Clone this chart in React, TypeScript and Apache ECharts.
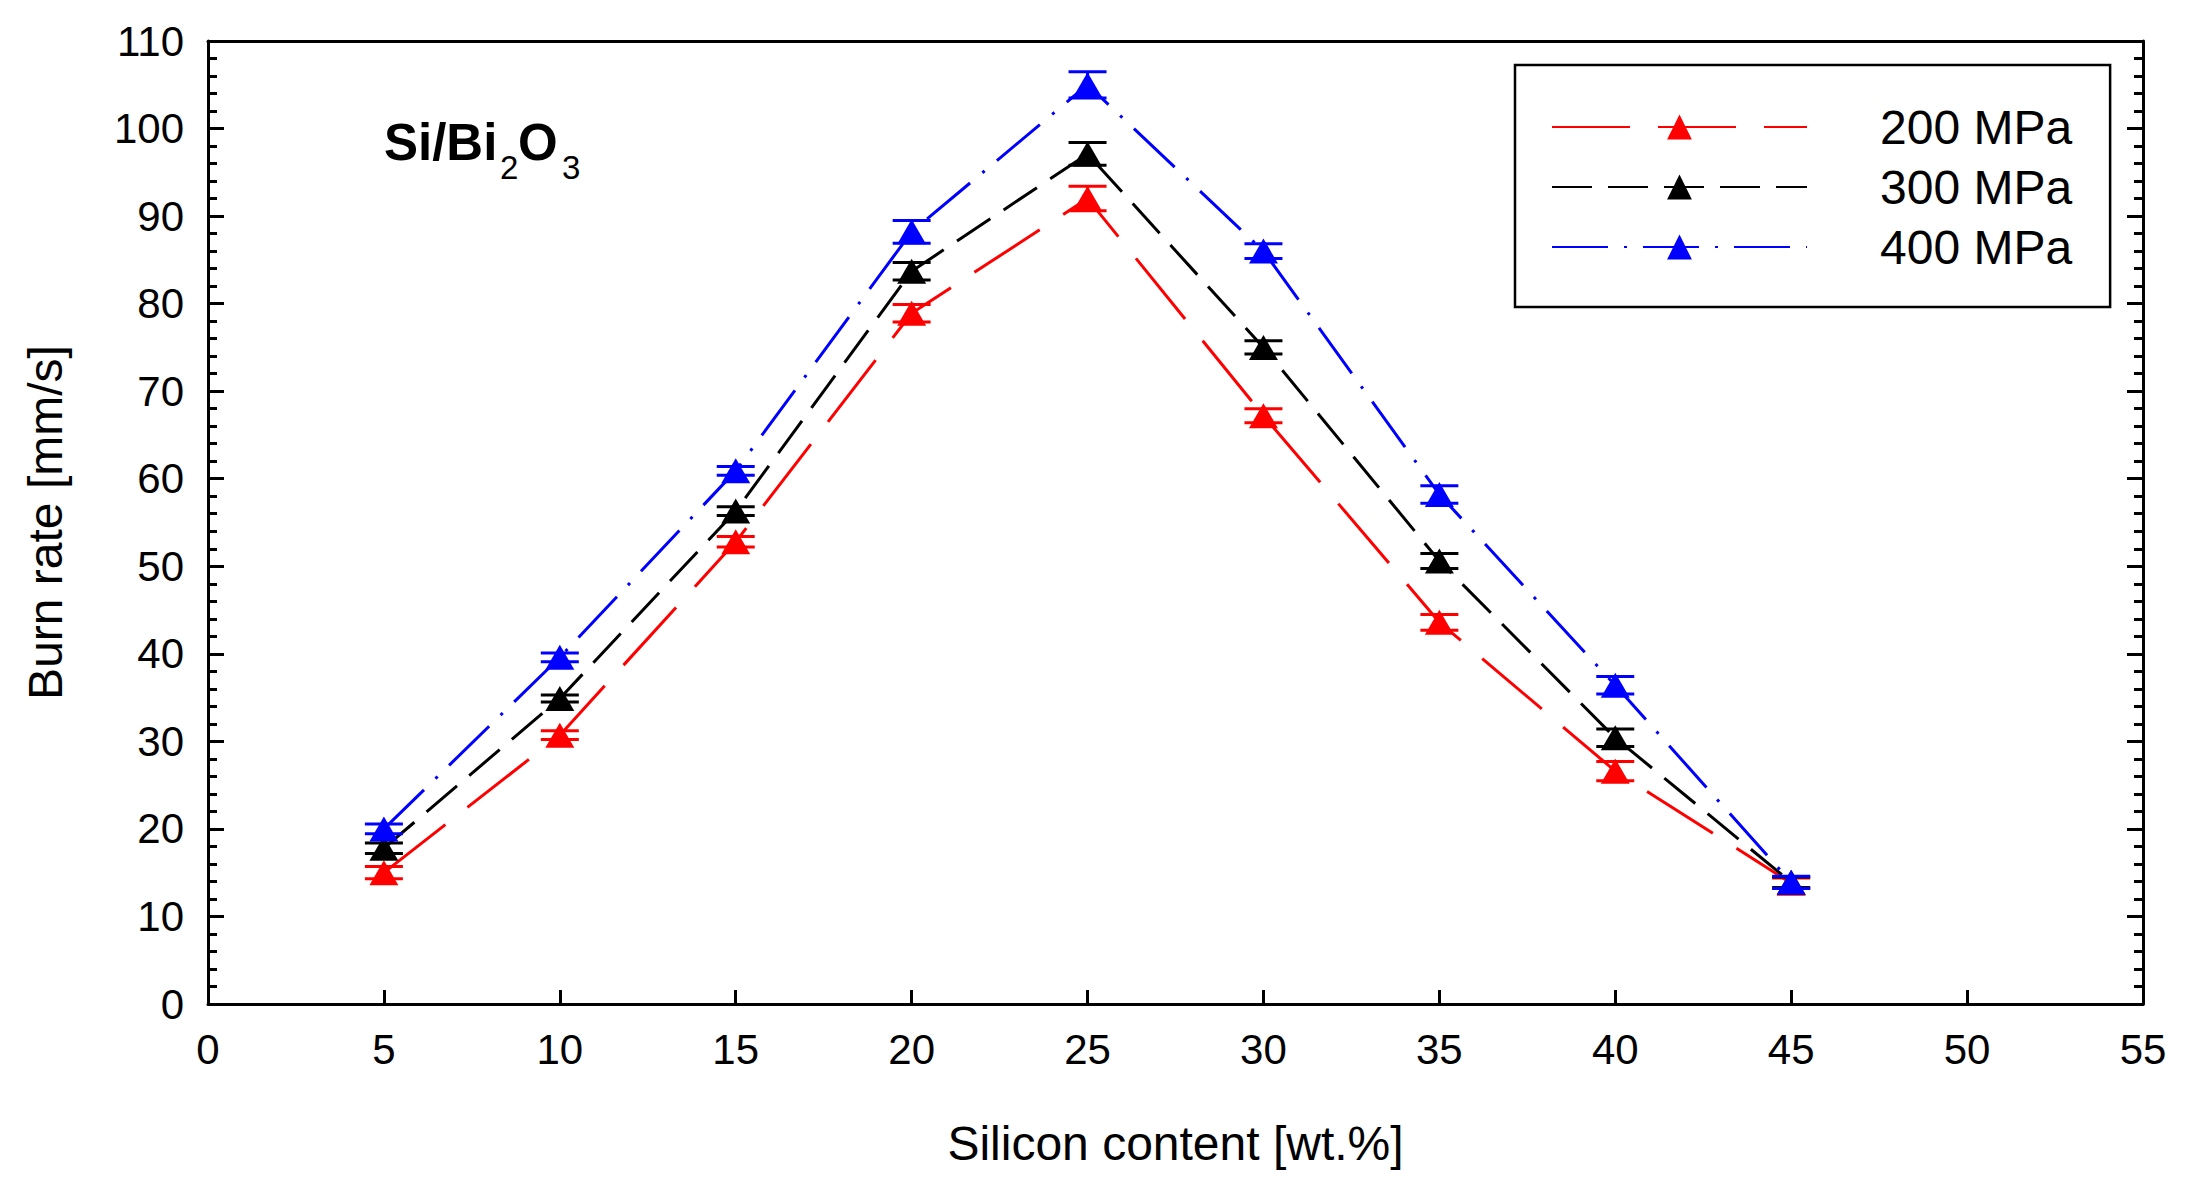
import React, { useEffect, useRef } from "react";
import * as echarts from "echarts";

const siliconContent = [5, 10, 15, 20, 25, 30, 35, 40, 45];
const seriesNames = ["200 MPa", "300 MPa", "400 MPa"];
const rate200 = [15.0, 30.7, 52.8, 78.9, 92.0, 67.2, 43.6, 26.6, 13.8];
const rate300 = [17.8, 34.9, 56.3, 83.7, 97.1, 75.0, 50.6, 30.4, 13.9];
const rate400 = [20.0, 39.6, 60.9, 88.2, 105.0, 86.0, 58.2, 36.4, 13.9];
const err200 = [0.7, 0.5, 0.6, 1.0, 1.4, 0.8, 0.9, 1.1, 0.6];
const err300 = [0.6, 0.4, 0.5, 1.0, 1.3, 0.75, 0.85, 1.0, 0.6];
const err400 = [0.55, 0.5, 0.5, 1.3, 1.5, 0.85, 1.0, 1.0, 0.7];
const xTicks = { min: 0, max: 55, interval: 5 };
const yTicks = { min: 0, max: 110, interval: 10 };

const FONT = "'Liberation Sans', Arial, sans-serif";

const colors = ["#ff0000", "#000000", "#0000ff"];
const dashes = [[78, 28], [40, 16], [56, 16, 3, 16]];

export default function App() {
  const ref = useRef<HTMLDivElement>(null);
  useEffect(() => {
    if (!ref.current) return;
    const chart = echarts.init(ref.current, null, { renderer: "svg" });
    const rates = [rate200, rate300, rate400];
    const errs = [err200, err300, err400];

    const series: any[] = [];
    seriesNames.forEach((name, i) => {
      series.push({
        name,
        type: "line",
        data: siliconContent.map((x, j) => [x, rates[i][j]]),
        symbol: "triangle",
        symbolSize: [29, 25],
        showSymbol: true,
        lineStyle: { color: colors[i], width: 3, type: dashes[i] },
        itemStyle: { color: colors[i] },
        z: 2 + i * 2,
      });
      series.push({
        name: name + " error",
        type: "custom",
        data: siliconContent.map((x, j) => [x, rates[i][j], errs[i][j]]),
        encode: { x: 0, y: 1 },
        z: 3 + i * 2,
        renderItem: (params: any, api: any) => {
          const x = api.value(0);
          const y = api.value(1);
          const e = api.value(2);
          const top = api.coord([x, y + e]);
          const bot = api.coord([x, y - e]);
          const hw = 19;
          const style = { stroke: colors[i], lineWidth: 3 };
          return {
            type: "group",
            children: [
              { type: "line", shape: { x1: top[0], y1: top[1], x2: bot[0], y2: bot[1] }, style },
              { type: "line", shape: { x1: top[0] - hw, y1: top[1], x2: top[0] + hw, y2: top[1] }, style },
              { type: "line", shape: { x1: bot[0] - hw, y1: bot[1], x2: bot[0] + hw, y2: bot[1] }, style },
            ],
          };
        },
      });
    });

    const axisLine = { show: true, onZero: false, lineStyle: { color: "#000", width: 3 } };

    chart.setOption({
      animation: false,
      backgroundColor: "#ffffff",
      textStyle: { fontFamily: FONT },
      grid: { left: 208, right: 47, top: 41, bottom: 191, containLabel: false },
      legend: {
        data: seriesNames,
        orient: "vertical",
        left: 1515,
        top: 65,
        itemWidth: 255,
        itemHeight: 31,
        itemGap: 12,
        padding: [38, 38, 36, 36],
        borderColor: "#000",
        borderWidth: 2.5,
        backgroundColor: "#fff",
        selectedMode: false,
        textStyle: { fontSize: 48, color: "#000", fontFamily: FONT, padding: [0, 0, 0, 68] },
      },
      graphic: [
        {
          type: "group",
          children: [
            { type: "text", x: 384, y: 142, style: { text: "Si/Bi", font: `bold 51px ${FONT}`, fill: "#000", verticalAlign: "middle", align: "left" } },
            { type: "text", x: 500, y: 167, style: { text: "2", font: `33px ${FONT}`, fill: "#000", verticalAlign: "middle", align: "left" } },
            { type: "text", x: 518, y: 142, style: { text: "O", font: `bold 51px ${FONT}`, fill: "#000", verticalAlign: "middle", align: "left" } },
            { type: "text", x: 562, y: 167, style: { text: "3", font: `33px ${FONT}`, fill: "#000", verticalAlign: "middle", align: "left" } },
          ],
        },
      ],
      xAxis: [
        {
          type: "value",
          position: "bottom",
          min: xTicks.min,
          max: xTicks.max,
          interval: xTicks.interval,
          name: "Silicon content [wt.%]",
          nameLocation: "middle",
          nameGap: 115,
          nameTextStyle: { fontSize: 48, color: "#000", fontFamily: FONT },
          axisLine,
          axisTick: { show: true, inside: true, length: 14, lineStyle: { color: "#000", width: 3 } },
          axisLabel: { fontSize: 42, color: "#000", margin: 24, fontFamily: FONT },
          splitLine: { show: false },
        },
        {
          type: "value",
          position: "top",
          min: xTicks.min,
          max: xTicks.max,
          interval: xTicks.interval,
          axisLine,
          axisTick: { show: false },
          axisLabel: { show: false },
          splitLine: { show: false },
        },
      ],
      yAxis: [
        {
          type: "value",
          position: "left",
          min: yTicks.min,
          max: yTicks.max,
          interval: yTicks.interval,
          name: "Burn rate [mm/s]",
          nameLocation: "middle",
          nameGap: 139,
          nameRotate: 90,
          nameTextStyle: { fontSize: 48, color: "#000", fontFamily: FONT },
          axisLine,
          axisTick: { show: true, inside: true, length: 16, lineStyle: { color: "#000", width: 3 } },
          minorTick: { show: true, splitNumber: 5, length: 9, lineStyle: { color: "#000", width: 3 } },
          axisLabel: { fontSize: 42, color: "#000", margin: 24, fontFamily: FONT },
          splitLine: { show: false },
          minorSplitLine: { show: false },
        },
        {
          type: "value",
          position: "right",
          min: yTicks.min,
          max: yTicks.max,
          interval: yTicks.interval,
          axisLine,
          axisTick: { show: true, inside: true, length: 16, lineStyle: { color: "#000", width: 3 } },
          minorTick: { show: true, splitNumber: 5, length: 9, lineStyle: { color: "#000", width: 3 } },
          axisLabel: { show: false },
          splitLine: { show: false },
          minorSplitLine: { show: false },
        },
      ],
      series,
    });
    return () => chart.dispose();
  }, []);
  return (
    <div
      ref={ref}
      style={{ position: "fixed", left: 0, top: 0, width: 2190, height: 1195, background: "#fff" }}
    />
  );
}
